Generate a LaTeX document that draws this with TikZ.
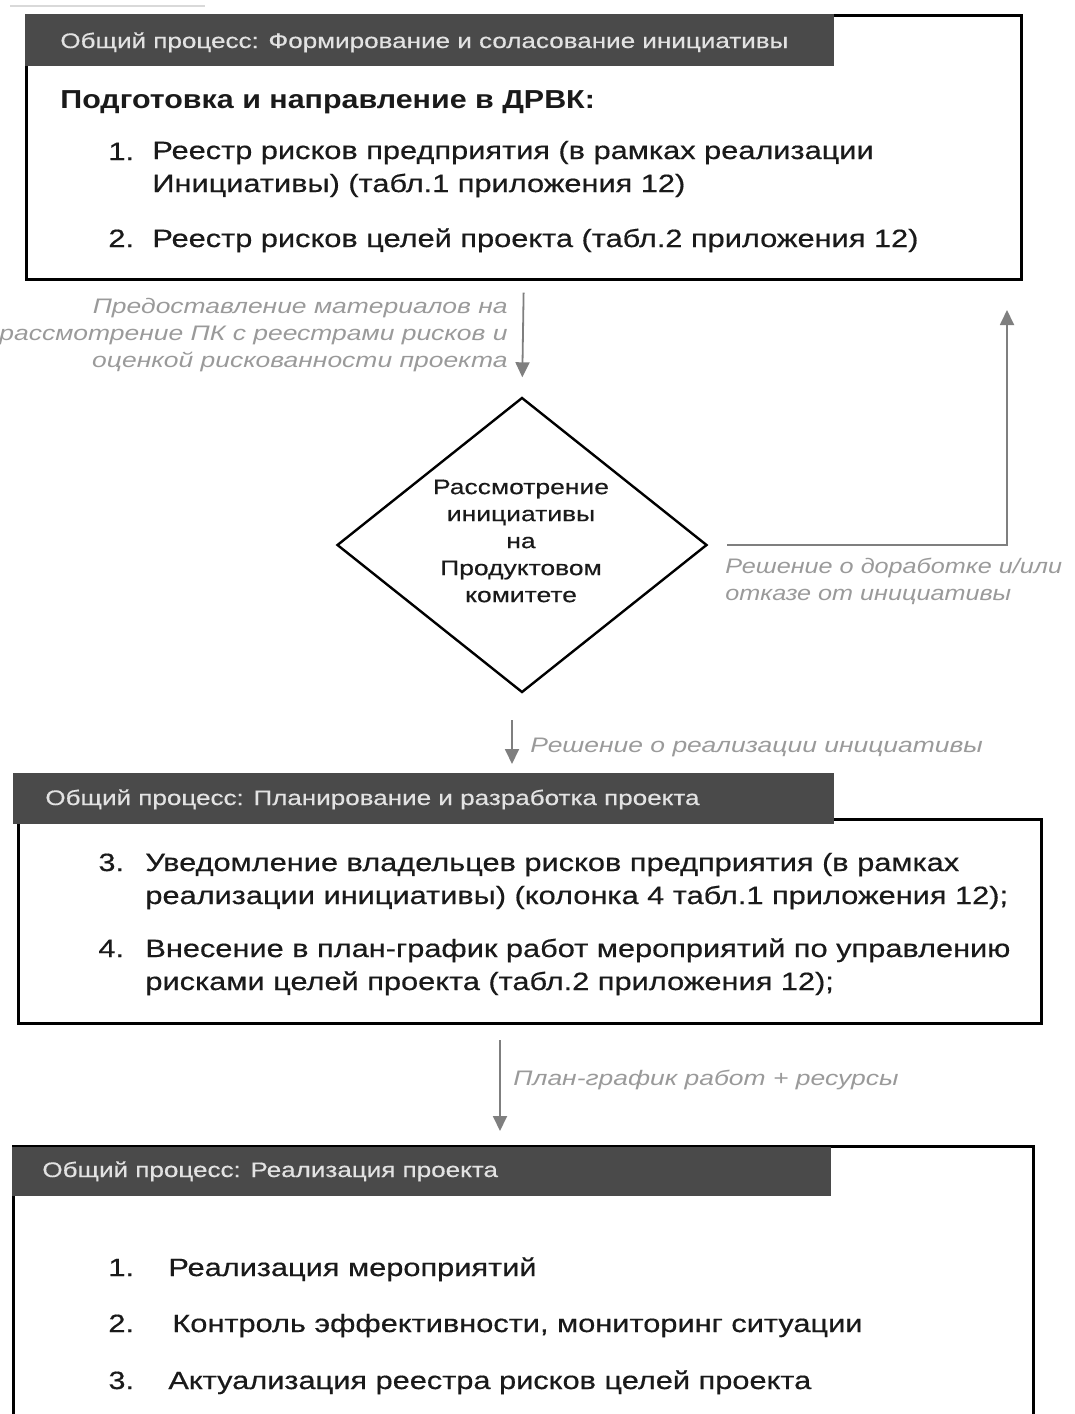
\documentclass[tikz,border=0pt]{standalone}
\usepackage{fontspec}
\setmainfont{Liberation Sans}
\newfontfamily\itemfont[FakeStretch=1.23,FakeBold=0.5]{Liberation Sans}
\newfontfamily\headfont[FakeStretch=1.17]{Liberation Sans}
\newfontfamily\hdrfont[FakeStretch=1.24,FakeBold=0.5]{Liberation Sans}
\newfontfamily\diafont[FakeStretch=1.26,FakeBold=0.4]{Liberation Sans}
\newfontfamily\lblfont[FakeStretch=1.26]{Liberation Sans}
\newfontfamily\lblfontnarrow[FakeStretch=1.2]{Liberation Sans}
\usetikzlibrary{shapes.geometric,calc,arrows.meta}
\definecolor{hdrfill}{HTML}{4A4A4A}
\definecolor{hdrtext}{HTML}{E2E2E2}
\definecolor{arrgray}{HTML}{7F7F7F}
\definecolor{lblgray}{HTML}{9A9A9A}
\definecolor{txt}{HTML}{1A1A1A}
\tikzset{
  frame/.style={draw=black, line width=1.3pt, fill=white, anchor=north west, inner sep=0pt},
  hdr/.style={fill=hdrfill, draw=hdrfill, anchor=north west, inner sep=0pt},
  hdrtxt/.style={anchor=base west, inner sep=0pt, text=hdrtext, font=\hdrfont\fontsize{10.5}{13}\selectfont},
  itemtxt/.style={anchor=base west, inner sep=0pt, align=left, text=txt, font=\itemfont\fontsize{12.5}{16.5}\selectfont},
  numtxt/.style={anchor=base west, inner sep=0pt, text=txt, font=\itemfont\fontsize{12.5}{16.5}\selectfont},
  lbl/.style={inner sep=0pt, text=lblgray, font=\lblfont\fontsize{10.5}{13.5}\selectfont\itshape},
  arr/.style={draw=arrgray, line width=0.9pt, -{Triangle[length=7.5pt,width=7pt]}},
  decision/.style={diamond, draw=black, line width=1.2pt, inner sep=0pt, minimum width=185pt, minimum height=147.5pt, text=txt, align=center, font=\diafont\fontsize{10.5}{13.5}\selectfont}
}
\begin{document}
\begin{tikzpicture}[x=0.5pt,y=-0.5pt]
\useasboundingbox (0,0) rectangle (1075,1414);
\clip (0,0) rectangle (1075,1414);
\draw[draw=black!15, line width=1pt] (10,6) -- (205,6);
% Box 1
\node[frame, minimum width=497.5pt, minimum height=132pt] (box1) at (25,14) {};
\node[hdr, minimum width=404pt, minimum height=25.5pt] (h1) at (25,14) {};
\node[hdrtxt] (h1t) at (60,48) {Общий процесс: Формирование и соласование инициативы};
\node[anchor=base west, inner sep=0pt, text=txt, font=\headfont\fontsize{13}{16}\selectfont\bfseries] (b1head) at (60,108) {Подготовка и направление в ДРВК:};
\node[numtxt] (n11) at (108,160) {1.};
\node[itemtxt] (i11) at (152,192) {Реестр рисков предприятия (в рамках реализации\\Инициативы) (табл.1 приложения 12)};
\node[numtxt] (n12) at (108,247) {2.};
\node[itemtxt] (i12) at (152,247) {Реестр рисков целей проекта (табл.2 приложения 12)};
% Decision
\node[decision] (dia) at (522,545) {};
\node[inner sep=0pt, align=center, text=txt, font=\diafont\fontsize{10.5}{13.5}\selectfont] (diat) at (521,541) {Рассмотрение\\инициативы\\на\\Продуктовом\\комитете};
\draw[arr, shorten <=6pt, shorten >=9.5pt] (box1.south) -- (dia.north);
\node[lbl, anchor=base east, align=right] (l1) at (508,367) {Предоставление материалов на\\рассмотрение ПК с реестрами рисков и\\оценкой рискованности проекта};
\coordinate (rtop) at (1007,310);
\draw[arr, shorten <=9.5pt] (dia.east) -| (rtop);
\node[lbl, anchor=base west, align=left, font=\lblfontnarrow\fontsize{10.5}{13.5}\selectfont\itshape] (l2) at (725,600) {Решение о доработке и/или\\отказе от инициативы};
% Box 2
\node[frame, minimum width=511.5pt, minimum height=102pt] (box2) at (17,818) {};
\node[hdr, minimum width=410pt, minimum height=25pt] (h2) at (13,773) {};
\node[hdrtxt] (h2t) at (45,805) {Общий процесс: Планирование и разработка проекта};
\coordinate (a2s) at (512,720);
\coordinate (a2e) at (512,764);
\draw[arr] (a2s) -- (a2e);
\node[lbl, anchor=base west] (l3) at (530,752) {Решение о реализации инициативы};
\node[numtxt] (n23) at (98,871) {3.};
\node[itemtxt] (i23) at (145,904) {Уведомление владельцев рисков предприятия (в рамках\\реализации инициативы) (колонка 4 табл.1 приложения 12);};
\node[numtxt] (n24) at (98,957) {4.};
\node[itemtxt] (i24) at (145,990) {Внесение в план-график работ мероприятий по управлению\\рисками целей проекта (табл.2 приложения 12);};
% Box 3
\node[frame, minimum width=510pt, minimum height=152.5pt] (box3) at (12,1145) {};
\node[hdr, minimum width=409pt, minimum height=24pt] (h3) at (12,1147) {};
\node[hdrtxt] (h3t) at (42,1177) {Общий процесс: Реализация проекта};
\coordinate (a3s) at (500,1040);
\coordinate (a3e) at (500,1131);
\draw[arr] (a3s) -- (a3e);
\node[lbl, anchor=base west] (l4) at (513,1085) {План-график работ + ресурсы};
\node[numtxt] (n31) at (108,1276) {1.};
\node[itemtxt] (i31) at (168,1276) {Реализация мероприятий};
\node[numtxt] (n32) at (108,1332) {2.};
\node[itemtxt] (i32) at (172,1332) {Контроль эффективности, мониторинг ситуации};
\node[numtxt] (n33) at (108,1389) {3.};
\node[itemtxt] (i33) at (168,1389) {Актуализация реестра рисков целей проекта};
\end{tikzpicture}
\end{document}
